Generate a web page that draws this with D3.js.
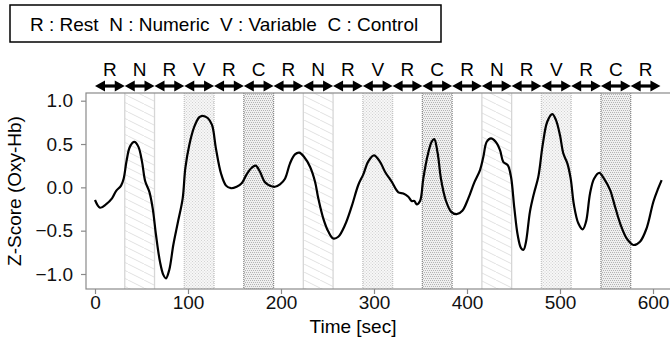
<!DOCTYPE html>
<html>
<head>
<meta charset="utf-8">
<script src="https://cdn.jsdelivr.net/npm/d3@7"></script>
<style>
  body { margin: 0; background: #fff; }
  text { font-family: "Liberation Sans", Arial, sans-serif; }
</style>
</head>
<body>
<div class="canvas"></div>
<script>
const svgWidth = 670;
const svgHeight = 341;

// task blocks (32 s each)
const blockLabels = ['R','N','R','V','R','C','R','N','R','V','R','C','R','N','R','V','R','C','R'];
const blockStarts = [0,32,64,96,128,160,192,224,256,288,320,352,384,416,448,480,512,544,576];
const blockLength = 32;

// curve
const times = [0,5.4,11.8,18.3,22.6,28,30.8,34,37.6,42.3,46.6,50.5,54,58.4,62,65.6,69.9,73.5,76.3,79.9,
  84.2,88.9,94.3,97.1,101.4,106.8,112.2,115.8,121.2,125.8,130,135.5,140.9,146.2,152.3,157.7,163.1,168.5,172.8,177.4,
  182.8,188.2,193.5,198.9,204.3,209.7,215,219.7,224.7,231.2,236.6,240.1,245.5,250.9,256.2,261.6,268.8,276,283.1,288.5,
  293.9,300,306.5,311.8,319,326.2,331.5,336.9,340.5,343.4,345.9,349.5,353,357.7,362,364.8,368.5,372,377.1,382.8,
  388.9,395,401.4,407.9,414,417.6,421.2,425.8,430.8,435.5,439,443.8,447.3,450.9,454.5,458.1,460.8,463.4,467.7,472,
  476.7,481.4,486.3,491.7,495.7,500,503.6,507.9,511.5,515,519.7,524.4,528,532.3,536.6,542.3,547.3,553.8,559.1,565.3,
  571.7,578.8,586,593.2,600.4,605.7,609.3];
const values = [-0.146,-0.235,-0.196,-0.127,-0.043,0.02,0.1,0.31,0.47,0.525,0.47,0.3,0.07,-0.05,-0.24,-0.55,-0.86,-1.01,-1.05,-0.95,
  -0.665,-0.415,-0.127,0.22,0.49,0.7,0.81,0.826,0.8,0.72,0.45,0.16,0.02,-0.01,0.007,0.046,0.15,0.226,0.25,0.18,
  0.058,0.018,0.007,0.035,0.1,0.277,0.38,0.4,0.353,0.238,0.065,-0.127,-0.36,-0.51,-0.59,-0.57,-0.435,-0.22,0.027,0.15,
  0.3,0.37,0.295,0.18,0.065,-0.058,-0.07,-0.108,-0.158,-0.158,-0.196,-0.158,0.1,0.37,0.526,0.557,0.39,0.1,-0.146,-0.28,
  -0.31,-0.27,-0.127,0.058,0.2,0.353,0.526,0.565,0.526,0.43,0.295,0.257,0.122,-0.24,-0.55,-0.7,-0.72,-0.63,-0.28,-0.07,
  0.122,0.49,0.757,0.845,0.776,0.6,0.39,0.277,0.1,-0.204,-0.415,-0.485,-0.396,-0.07,0.1,0.168,0.1,-0.03,-0.22,-0.435,
  -0.59,-0.665,-0.627,-0.47,-0.166,-0.01,0.084];

const yTicks = [-1, -0.5, 0, 0.5, 1];
const xTicks = [0, 100, 200, 300, 400, 500, 600];
const legendText = 'R : Rest  N : Numeric  V : Variable  C : Control';

const svg = d3.select('.canvas')
    .append('svg')
    .attr('width', svgWidth)
    .attr('height', svgHeight);

// plot box (right side runs off the picture)
const box = { left: 86, top: 93, right: 690, bottom: 289 };

const x = d3.scaleLinear().domain([0, 600]).range([95, 653]);
const y = d3.scaleLinear().domain([-1, 1]).range([274, 100.7]);

// fill patterns
const defs = svg.append('defs');
const hatch = defs.append('pattern').attr('id', 'hatchN')
    .attr('patternUnits', 'userSpaceOnUse').attr('width', 16).attr('height', 8);
hatch.append('rect').attr('width', 16).attr('height', 8).attr('fill', '#fff');
[[-16, 0], [0, 0], [16, 0]].forEach(o => hatch.append('line')
    .attr('x1', o[0]).attr('y1', 0).attr('x2', o[0] + 16).attr('y2', 8)
    .attr('stroke', '#d9d9d9').attr('stroke-width', 0.8));

const dotV = defs.append('pattern').attr('id', 'dotV')
    .attr('patternUnits', 'userSpaceOnUse').attr('width', 6).attr('height', 6);
dotV.append('rect').attr('width', 6).attr('height', 6).attr('fill', '#f7f7f7');
[[0,0],[3,0],[1.5,1.5],[4.5,1.5],[0,3],[3,3],[1.5,4.5],[4.5,4.5]].forEach(p => dotV.append('rect')
    .attr('x', p[0]).attr('y', p[1]).attr('width', 1).attr('height', 1).attr('fill', '#d2d2d2'));

const dotC = defs.append('pattern').attr('id', 'dotC')
    .attr('patternUnits', 'userSpaceOnUse').attr('width', 4).attr('height', 4);
dotC.append('rect').attr('width', 4).attr('height', 4).attr('fill', '#f0f0f0');
[[0,0],[2,0],[1,2],[3,2]].forEach(p => dotC.append('rect')
    .attr('x', p[0]).attr('y', p[1]).attr('width', 1).attr('height', 1).attr('fill', '#b4b4b4'));

const fills = { N: 'url(#hatchN)', V: 'url(#dotV)', C: 'url(#dotC)' };
const edges = { N: '#d6d6d6', V: '#c4c4c4', C: '#8c8c8c' };

const blocks = blockLabels.map((lab, i) => ({ lab, start: blockStarts[i], end: blockStarts[i] + blockLength }));

// task bands
const bands = svg.append('g');
blocks.filter(b => b.lab !== 'R').forEach(b => {
    bands.append('rect')
        .attr('x', x(b.start)).attr('y', box.top)
        .attr('width', x(b.end) - x(b.start)).attr('height', box.bottom - box.top)
        .attr('fill', fills[b.lab]);
    [b.start, b.end].forEach(t => {
        bands.append('line')
            .attr('x1', x(t)).attr('x2', x(t))
            .attr('y1', box.top).attr('y2', box.bottom)
            .attr('stroke', edges[b.lab])
            .attr('stroke-width', 1.3)
            .attr('stroke-dasharray', b.lab === 'N' ? null : '1,1');
    });
});

// box
svg.append('rect')
    .attr('x', box.left).attr('y', box.top)
    .attr('width', box.right - box.left).attr('height', box.bottom - box.top)
    .attr('fill', 'none').attr('stroke', '#8a8a8a').attr('stroke-width', 1.2);

// axes
const yAxis = d3.axisLeft(y).tickValues(yTicks).tickFormat(d3.format('.1f')).tickSize(5).tickPadding(8);
const xAxis = d3.axisBottom(x).tickValues(xTicks).tickFormat(d3.format('d')).tickSize(5).tickPadding(2);

const yAxisGroup = svg.append('g').attr('transform', `translate(${box.left}, 0)`).call(yAxis);
const xAxisGroup = svg.append('g').attr('transform', `translate(0, ${box.bottom})`).call(xAxis);
[yAxisGroup, xAxisGroup].forEach(g => {
    g.select('.domain').remove();
    g.selectAll('line').attr('stroke', '#8a8a8a').attr('stroke-width', 1.2);
    g.selectAll('text').attr('font-size', 19).attr('fill', '#111')
        .style('font-family', '"Liberation Sans", Arial, sans-serif');
});

// curve
const pts = times.map((t, i) => [t, values[i]]);
const line = d3.line()
    .x(d => x(d[0]))
    .y(d => y(d[1]))
    .curve(d3.curveCatmullRom.alpha(0.5));
svg.append('path')
    .datum(pts)
    .attr('d', line)
    .attr('fill', 'none')
    .attr('stroke', '#000')
    .attr('stroke-width', 2.2)
    .attr('stroke-linejoin', 'round');

// arrows and block labels
const arrowY = 86;
const head = 10, half = 5.5;
const arrows = svg.append('g');
blocks.forEach(b => {
    const x0 = x(b.start), x1 = x(b.end);
    arrows.append('line')
        .attr('x1', x0 + head - 1).attr('x2', x1 - head + 1)
        .attr('y1', arrowY).attr('y2', arrowY)
        .attr('stroke', '#000').attr('stroke-width', 3.2);
    arrows.append('path')
        .attr('d', `M${x0},${arrowY} L${x0 + head},${arrowY - half} L${x0 + head},${arrowY + half} Z`)
        .attr('fill', '#000');
    arrows.append('path')
        .attr('d', `M${x1},${arrowY} L${x1 - head},${arrowY - half} L${x1 - head},${arrowY + half} Z`)
        .attr('fill', '#000');
    arrows.append('text')
        .attr('x', (x0 + x1) / 2).attr('y', 76)
        .attr('text-anchor', 'middle')
        .attr('font-size', 19)
        .text(b.lab);
});

// axis titles
svg.append('text')
    .attr('x', 353).attr('y', 333)
    .attr('text-anchor', 'middle').attr('font-size', 19)
    .text('Time [sec]');
svg.append('text')
    .attr('transform', `translate(21, ${(box.top + box.bottom) / 2}) rotate(-90)`)
    .attr('text-anchor', 'middle').attr('font-size', 19)
    .text('Z-Score (Oxy-Hb)');

// legend
svg.append('rect')
    .attr('x', 10).attr('y', 5).attr('width', 431).attr('height', 37)
    .attr('fill', '#fff').attr('stroke', '#000').attr('stroke-width', 1.5);
svg.append('text')
    .attr('x', 30).attr('y', 31)
    .attr('font-size', 19)
    .attr('xml:space', 'preserve')
    .style('white-space', 'pre')
    .text(legendText);
</script>
</body>
</html>
